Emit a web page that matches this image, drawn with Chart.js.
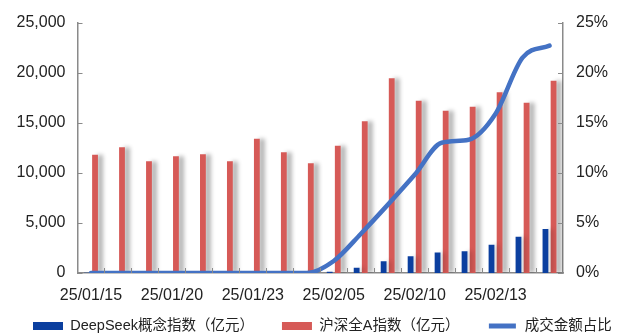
<!DOCTYPE html>
<html lang="zh-CN">
<head>
    <meta charset="UTF-8">
    <title>DeepSeek概念指数成交额</title>
    <script src="https://cdn.jsdelivr.net/npm/chart.js"></script>
    <style>
        body {
            margin: 0;
            background: #ffffff;
        }
        .wrap {
            position: relative;
            width: 622px;
            height: 334px;
        }
    </style>
</head>
<body>
    <div class="wrap">
        <canvas id="turnoverChart" width="622" height="334"></canvas>
    </div>

    <script>
        // trading days
        var dates = ["25/01/15", "25/01/16", "25/01/17", "25/01/20", "25/01/21", "25/01/22",
                     "25/01/23", "25/01/24", "25/01/27", "25/02/05", "25/02/06", "25/02/07",
                     "25/02/10", "25/02/11", "25/02/12", "25/02/13", "25/02/14", "25/02/17"];

        // 亿元
        var deepseekTurnover = [20, 20, 20, 20, 20, 20, 20, 20, 40, 130, 520, 1170,
                                1660, 2050, 2180, 2830, 3610, 4400];
        var allATurnover = [11800, 12550, 11150, 11650, 11850, 11150, 13400, 12050, 10950,
                            12700, 15150, 19450, 17200, 16200, 16600, 18050, 17000, 19200];

        // %
        var shareOfTotal = [0, 0, 0, 0, 0, 0, 0, 0, 0, 1.2, 3.9, 6.8,
                            9.8, 13.0, 13.3, 15.9, 21.5, 22.7];

        var leftTicks = [0, 5000, 10000, 15000, 20000, 25000];
        var rightTicks = [0, 5, 10, 15, 20, 25];

        var FONT = "'Liberation Sans', Arial, 'Noto Sans CJK SC', sans-serif";
        var AXIS = '#8a8a8a';

        // small inward tick marks like the original
        var innerTicks = {
            id: 'innerTicks',
            afterDraw: function (chart) {
                var ctx = chart.ctx;
                var x = chart.scales.x, yl = chart.scales.y, yr = chart.scales.y1;
                ctx.save();
                ctx.strokeStyle = AXIS;
                ctx.lineWidth = 1;
                ctx.beginPath();
                leftTicks.forEach(function (v) {
                    var p = Math.round(yl.getPixelForValue(v)) + 0.5;
                    ctx.moveTo(yl.right, p);
                    ctx.lineTo(yl.right + 5, p);
                });
                rightTicks.forEach(function (v) {
                    var p = Math.round(yr.getPixelForValue(v)) + 0.5;
                    ctx.moveTo(yr.left - 5, p);
                    ctx.lineTo(yr.left, p);
                });
                for (var i = 1; i < dates.length; i++) {
                    var px = Math.round(x.getPixelForValue(i - 0.5)) + 0.5;
                    ctx.moveTo(px, x.top);
                    ctx.lineTo(px, x.top - 5);
                }
                ctx.stroke();
                ctx.restore();
            }
        };

        // grey shading on the right of the bars
        var barShade = {
            id: 'barShade',
            beforeDatasetDraw: function (chart, args) {
                if (args.index > 1) return;
                var ctx = chart.ctx;
                ctx.save();
                ctx.shadowColor = args.index === 1 ? 'rgba(0,0,0,0.30)' : 'rgba(0,0,0,0.15)';
                ctx.shadowOffsetX = 5;
                ctx.shadowOffsetY = 0;
                ctx.shadowBlur = 4;
            },
            afterDatasetDraw: function (chart, args) {
                if (args.index > 1) return;
                chart.ctx.restore();
            }
        };

        // legend sits closer to the axis labels than chart.js' layout allows
        var legendNudge = {
            id: 'legendNudge',
            afterLayout: function (chart) {
                var lg = chart.legend;
                lg.top = 290.75;
                lg.bottom = 334;
                lg.height = lg.bottom - lg.top;
            }
        };

        var ctx = document.getElementById('turnoverChart').getContext('2d');
        var turnoverChart = new Chart(ctx, {
            type: 'bar',
            data: {
                labels: dates,
                datasets: [
                    {
                        label: "DeepSeek概念指数（亿元）",
                        data: deepseekTurnover,
                        backgroundColor: "#0b3f9f",
                        categoryPercentage: 0.6,
                        barPercentage: 0.72,
                        yAxisID: 'y'
                    },
                    {
                        label: "沪深全A指数（亿元）",
                        data: allATurnover,
                        backgroundColor: "#d65a57",
                        categoryPercentage: 0.6,
                        barPercentage: 0.72,
                        yAxisID: 'y'
                    },
                    {
                        type: 'line',
                        label: "成交金额占比",
                        data: shareOfTotal,
                        borderColor: "#4472c4",
                        backgroundColor: "#4472c4",
                        borderWidth: 4.5,
                        pointRadius: 0,
                        cubicInterpolationMode: 'monotone',
                        borderCapStyle: 'round',
                        fill: false,
                        order: -1,
                        yAxisID: 'y1'
                    }
                ]
            },
            options: {
                responsive: false,
                animation: false,
                layout: { padding: { top: 17, left: 5, right: -20, bottom: 0 } },
                plugins: {
                    tooltip: { enabled: false },
                    legend: {
                        position: 'bottom',
                        align: 'start',
                        maxHeight: 31,
                        labels: {
                            font: { family: FONT, size: 14.5 },
                            color: '#222',
                            boxWidth: 30,
                            boxHeight: 8,
                            padding: 28,
                            sort: function (a, b) { return a.datasetIndex - b.datasetIndex; },
                            generateLabels: function (chart) {
                                var items = Chart.defaults.plugins.legend.labels.generateLabels(chart);
                                items.forEach(function (it) {
                                    if (it.datasetIndex === 2) {
                                        it.fillStyle = '#4472c4';
                                        it.strokeStyle = '#ffffff';
                                        it.lineWidth = 3;
                                    } else {
                                        it.lineWidth = 0;
                                    }
                                });
                                return items;
                            }
                        }
                    }
                },
                scales: {
                    x: {
                        grid: { display: false, drawTicks: false },
                        border: { color: AXIS, width: 1.5 },
                        afterFit: function (s) { s.height = 30; },
                        ticks: {
                            autoSkip: false,
                            maxRotation: 0,
                            padding: 13,
                            color: '#222',
                            font: { family: FONT, size: 16 },
                            callback: function (v, i) { return i % 3 === 0 ? dates[i] : ''; }
                        }
                    },
                    y: {
                        position: 'left',
                        min: 0,
                        max: 25000,
                        grid: { display: false, drawTicks: false },
                        border: { color: AXIS, width: 1.5 },
                        afterFit: function (s) { s.width = 72.5; },
                        afterBuildTicks: function (s) {
                            s.ticks = leftTicks.map(function (v) { return { value: v }; });
                        },
                        ticks: {
                            padding: 12,
                            color: '#222',
                            font: { family: FONT, size: 16 },
                            callback: function (v) { return v.toLocaleString('en-US'); }
                        }
                    },
                    y1: {
                        position: 'right',
                        min: 0,
                        max: 25,
                        grid: { display: false, drawTicks: false },
                        border: { color: AXIS, width: 1.5 },
                        afterFit: function (s) { s.width = 79; },
                        afterBuildTicks: function (s) {
                            s.ticks = rightTicks.map(function (v) { return { value: v }; });
                        },
                        ticks: {
                            padding: 13,
                            color: '#222',
                            font: { family: FONT, size: 16 },
                            callback: function (v) { return v + '%'; }
                        }
                    }
                }
            },
            plugins: [innerTicks, barShade, legendNudge]
        });
    </script>
</body>
</html>
